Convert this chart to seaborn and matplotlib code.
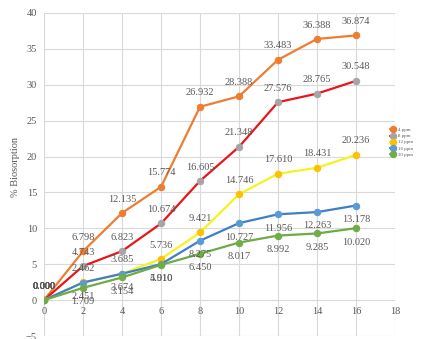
import matplotlib
matplotlib.use("Agg")
import matplotlib.pyplot as plt
import pandas as pd
import seaborn as sns

# Contact time values on the x axis
time_points = [0, 2, 4, 6, 8, 10, 12, 14, 16]

# % biosorption for each initial concentration
bio_4ppm = [0.000, 6.798, 12.135, 15.774, 26.932, 28.388, 33.483, 36.388, 36.874]
bio_8ppm = [0.000, 4.743, 6.823, 10.674, 16.605, 21.348, 27.576, 28.765, 30.548]
bio_12ppm = [0.000, 2.462, 3.685, 5.736, 9.421, 14.746, 17.610, 18.431, 20.236]
bio_16ppm = [0.000, 2.451, 3.674, 5.010, 8.275, 10.727, 11.956, 12.263, 13.178]
bio_20ppm = [0.000, 1.709, 3.154, 4.910, 6.450, 8.017, 8.992, 9.285, 10.020]

series_names = ["4 ppm", "8 ppm", "12 ppm", "16 ppm", "20 ppm"]
series_values = [bio_4ppm, bio_8ppm, bio_12ppm, bio_16ppm, bio_20ppm]

x_ticks = [0, 2, 4, 6, 8, 10, 12, 14, 16, 18]
y_ticks = [-5, 0, 5, 10, 15, 20, 25, 30, 35, 40]

frames = []
for name, vals in zip(series_names, series_values):
    frames.append(pd.DataFrame({"time": time_points, "bio": vals, "conc": name}))
df = pd.concat(frames, ignore_index=True)

# line colour, marker colour, label direction (+1 above, -1 below)
styles = {
    "4 ppm": ("#ED7D31", "#ED7D31", 1),
    "8 ppm": ("#E8151B", "#A5A5A5", 1),
    "12 ppm": ("#F7F21E", "#FFC000", 1),
    "16 ppm": ("#3F7FC6", "#5B9BD5", -1),
    "20 ppm": ("#6EAB45", "#70AD47", -1),
}

sns.set_style("whitegrid")
plt.rcParams["font.family"] = ["Liberation Serif", "DejaVu Serif"]
text_gray = "#595959"

fig = plt.figure(figsize=(4.25, 3.39), dpi=100)
ax = fig.add_axes([44 / 425, 1 - 336 / 339, 351 / 425, 323 / 339])

for name in series_names:
    line_c, mark_c, _ = styles[name]
    sub = df[df["conc"] == name]
    sns.lineplot(data=sub, x="time", y="bio", ax=ax, color=line_c, linewidth=1.6,
                 marker="o", markersize=4.6, markerfacecolor=mark_c,
                 markeredgecolor=mark_c, label=name, estimator=None)

for name in series_names:
    _, _, direction = styles[name]
    sub = df[df["conc"] == name]
    for i, (xv, yv) in enumerate(zip(sub["time"], sub["bio"])):
        d = 1 if i == 0 else direction
        ax.annotate(f"{yv:.3f}", (xv, yv), xytext=(0, 10 * d), textcoords="offset points",
                    ha="center", va="center", fontsize=7.5, color=text_gray, zorder=5)

ax.set_xlim(0, 18)
ax.set_ylim(-5, 40)
ax.set_xticks(x_ticks)
ax.set_yticks(y_ticks)
ax.grid(True, color="#D9D9D9", linewidth=0.8)
for sp in ax.spines.values():
    sp.set_visible(False)
# horizontal axis crosses at zero, with its labels just under that line
ax.spines["bottom"].set_position(("data", 0))
ax.tick_params(axis="both", length=0, labelsize=7.5, labelcolor=text_gray)
ax.tick_params(axis="x", pad=5)
ax.tick_params(axis="y", pad=5)
ax.set_xlabel("")
ax.set_ylabel("% Biosorption", fontsize=7.5, color=text_gray)
ax.yaxis.set_label_coords(-0.068, 0.523)

leg = ax.legend(loc="center left", bbox_to_anchor=(0.985, 0.60), frameon=False,
                fontsize=3.5, handlelength=1.3, handletextpad=0.3, labelspacing=0.35,
                borderpad=0, borderaxespad=0, markerscale=1.0)
for t in leg.get_texts():
    t.set_color(text_gray)

fig.savefig("out.png", dpi=100)
